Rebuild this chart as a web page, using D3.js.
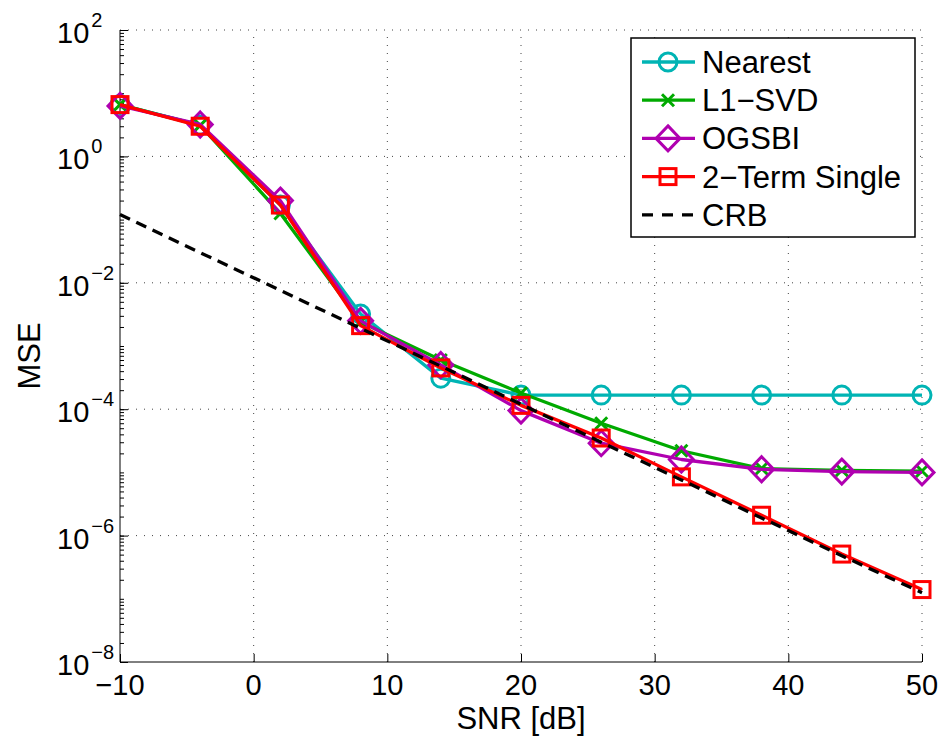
<!DOCTYPE html>
<html>
<head>
<meta charset="utf-8">
<script src="https://cdn.jsdelivr.net/npm/d3@7"></script>
<style>
  body { margin: 0; background: #fff; }
  svg { display: block; font-family: "Liberation Sans", Arial, Helvetica, sans-serif; }
</style>
</head>
<body>
<svg id="chart" width="946" height="742"></svg>
<script>
// SNR points and MSE curves
const snr = [-10, -4, 2, 8, 14, 20, 26, 32, 38, 44, 50];
const nearest = [6.6, 3.1, 0.17, 3.2e-3, 3.1e-4, 1.67e-4, 1.67e-4, 1.67e-4, 1.67e-4, 1.67e-4, 1.67e-4];
const l1svd = [6.6, 3.1, 0.125, 2.4e-3, 6.0e-4, 1.8e-4, 6.0e-5, 2.2e-5, 1.15e-5, 1.08e-5, 1.05e-5];
const ogsbi = [6.3, 3.2, 0.2, 2.5e-3, 5.0e-4, 9.5e-5, 2.9e-5, 1.6e-5, 1.12e-5, 1.03e-5, 1.0e-5];
const twoTerm = [6.6, 3.0, 0.17, 2.1e-3, 4.5e-4, 1.15e-4, 3.5e-5, 8.5e-6, 2.1e-6, 5.1e-7, 1.4e-7];
const crb = [0.12, 0.030, 7.6e-3, 1.9e-3, 4.8e-4, 1.2e-4, 3.0e-5, 7.6e-6, 1.9e-6, 4.8e-7, 1.25e-7];

const xTicks = [-10, 0, 10, 20, 30, 40, 50];
const yTickExp = [2, 0, -2, -4, -6, -8];

const series = [
  { name: "Nearest", values: nearest, color: "#00b4b4", marker: "circle" },
  { name: "L1\u2212SVD", values: l1svd, color: "#00aa00", marker: "x" },
  { name: "OGSBI", values: ogsbi, color: "#b000b0", marker: "diamond" },
  { name: "2\u2212Term Single", values: twoTerm, color: "#ff0000", marker: "square" },
  { name: "CRB", values: crb, color: "#000", marker: null, dash: "11,7" }
];

const svg = d3.select("#chart");
const plotL = 120, plotR = 922, plotT = 30, plotB = 662;

const x = d3.scaleLinear().domain([-10, 50]).range([plotL, plotR]);
const y = d3.scaleLog().domain([1e-8, 1e2]).range([plotB, plotT]);

// grid (dotted), includes the top / right edges
const grid = svg.append("g")
    .attr("stroke", "#444")
    .attr("stroke-width", 1)
    .attr("stroke-dasharray", "1,7");
grid.selectAll(".gx").data(xTicks.filter(d => d !== -10))
  .join("line")
    .attr("x1", d => x(d)).attr("x2", d => x(d))
    .attr("y1", plotB).attr("y2", plotT);
grid.selectAll(".gy").data(yTickExp.filter(e => e !== -8))
  .join("line")
    .attr("y1", e => y(Math.pow(10, e))).attr("y2", e => y(Math.pow(10, e)))
    .attr("x1", plotL).attr("x2", plotR);

// axes
const xAxis = d3.axisBottom(x).tickValues(xTicks).tickSize(-8).tickFormat("");
svg.append("g")
    .attr("transform", `translate(0,${plotB})`)
    .call(xAxis)
    .call(g => g.select(".domain").attr("d", `M${plotL},0H${plotR}`))
    .call(g => g.selectAll("line").attr("stroke", "#000"));

const minor = [];
for (let e = -8; e < 2; e++) for (let m = 1; m < 10; m++) minor.push(m * Math.pow(10, e));
const yMinor = d3.axisLeft(y).tickValues(minor).tickSize(-4).tickFormat("");
svg.append("g")
    .attr("transform", `translate(${plotL},0)`)
    .call(yMinor)
    .call(g => g.select(".domain").remove());
const yAxis = d3.axisLeft(y).tickValues(yTickExp.map(e => Math.pow(10, e))).tickSize(-8).tickFormat("");
svg.append("g")
    .attr("transform", `translate(${plotL},0)`)
    .call(yAxis)
    .call(g => g.select(".domain").attr("d", `M0,${plotB}V${plotT}`));

// tick labels
svg.append("g").selectAll("text").data(xTicks)
  .join("text")
    .attr("x", d => x(d))
    .attr("y", plotB + 33)
    .attr("text-anchor", "middle")
    .attr("font-size", 29)
    .text(d => d < 0 ? "\u2212" + Math.abs(d) : d);

const yl = svg.append("g").selectAll("text").data(yTickExp)
  .join("text")
    .attr("x", 57)
    .attr("y", e => y(Math.pow(10, e)) + 13)
    .attr("font-size", 29);
yl.append("tspan").text("10");
yl.append("tspan")
    .attr("font-size", 20)
    .attr("dx", 2)
    .attr("dy", -16)
    .text(e => e < 0 ? "\u2212" + Math.abs(e) : e);

// axis titles
svg.append("text")
    .attr("x", (plotL + plotR) / 2)
    .attr("y", 729)
    .attr("text-anchor", "middle")
    .attr("font-size", 31)
    .text("SNR [dB]");
svg.append("text")
    .attr("transform", `translate(40,${(plotT + plotB) / 2 + 10}) rotate(-90)`)
    .attr("text-anchor", "middle")
    .attr("font-size", 31)
    .text("MSE");

// markers
function drawMarker(sel, type, color) {
  if (type === "circle") {
    sel.append("circle").attr("r", 9).attr("fill", "none").attr("stroke", color).attr("stroke-width", 3);
  } else if (type === "square") {
    sel.append("rect").attr("x", -8).attr("y", -8).attr("width", 16).attr("height", 16)
      .attr("fill", "none").attr("stroke", color).attr("stroke-width", 3);
  } else if (type === "diamond") {
    sel.append("path").attr("d", "M0,-12.5L12,0L0,12.5L-12,0Z")
      .attr("fill", "none").attr("stroke", color).attr("stroke-width", 3);
  } else if (type === "x") {
    sel.append("path").attr("d", "M-6,-6L6,6M-6,6L6,-6")
      .attr("fill", "none").attr("stroke", color).attr("stroke-width", 3);
  }
}

const line = d3.line().x((d, i) => x(snr[i])).y(d => y(d));

const plot = svg.append("g");
series.forEach(s => {
  plot.append("path")
      .attr("d", line(s.values))
      .attr("fill", "none")
      .attr("stroke", s.color)
      .attr("stroke-width", 3.3)
      .attr("stroke-linejoin", "round")
      .attr("stroke-dasharray", s.dash || null);
  if (s.marker) {
    plot.append("g").selectAll("g").data(s.values)
      .join("g")
        .attr("transform", (d, i) => `translate(${x(snr[i])},${y(d)})`)
        .each(function() { drawMarker(d3.select(this), s.marker, s.color); });
  }
});

// legend
const lg = svg.append("g");
lg.append("rect")
    .attr("x", 631).attr("y", 38).attr("width", 284).attr("height", 199)
    .attr("fill", "#fff").attr("stroke", "#000").attr("stroke-width", 1.5);
const item = lg.selectAll(".item").data(series)
  .join("g")
    .attr("transform", (d, i) => `translate(0,${62 + i * 38.2})`);
item.append("line")
    .attr("x1", 642).attr("x2", 695)
    .attr("stroke", d => d.color)
    .attr("stroke-width", 3.3)
    .attr("stroke-dasharray", d => d.dash ? "11,9" : null);
item.each(function(d) {
  if (d.marker) {
    const m = d3.select(this).append("g").attr("transform", "translate(668,0)");
    drawMarker(m, d.marker, d.color);
  }
});
item.append("text")
    .attr("x", 702)
    .attr("y", 11)
    .attr("font-size", 31)
    .text(d => d.name);
</script>
</body>
</html>
